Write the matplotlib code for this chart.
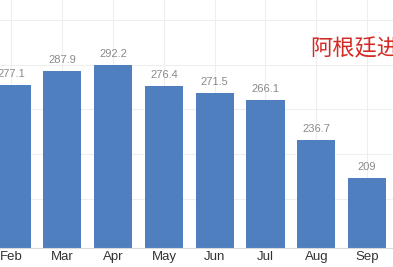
import matplotlib.pyplot as plt

plt.rcParams['font.family'] = ['Liberation Sans', 'Noto Sans CJK SC', 'DejaVu Sans']

# monthly values (Jan is cut off in the source picture)
months = ['Feb', 'Mar', 'Apr', 'May', 'Jun', 'Jul', 'Aug', 'Sep']
values = [277.1, 287.9, 292.2, 276.4, 271.5, 266.1, 236.7, 209]
labels = ['277.1', '287.9', '292.2', '276.4', '271.5', '266.1', '236.7', '209']
grid_levels = [193.5, 226.5, 259.5, 292.5, 325.5]
title_text = '阿根廷进口'

fig = plt.figure(figsize=(3.93, 2.67), dpi=100)
ax = fig.add_axes([0, 0.0712, 1, 0.9288])

x = list(range(len(months)))
ax.bar(x, values, width=0.75, color='#4f7fbf', zorder=2)

for xi, v, lab in zip(x, values, labels):
    ax.annotate(lab, (xi, v), xytext=(0, 4.5), textcoords='offset points',
                ha='center', va='bottom', fontsize=8, color='#8a8a8a')

ax.set_xlim(-0.226, 7.51)
ax.set_ylim(157.5, 340)
ax.set_xticks(x)
ax.set_xticklabels(months, fontsize=9.5, color='#333333')
ax.set_yticks(grid_levels)
ax.tick_params(axis='both', length=0, pad=2.5)
ax.tick_params(axis='y', labelleft=False)

ax.grid(True, color='#eeeeee', linewidth=0.8, zorder=0)
ax.set_axisbelow(True)
for side in ['top', 'right', 'left']:
    ax.spines[side].set_visible(False)
ax.spines['bottom'].set_color('#d9d9d9')

fig.text(310 / 393, 1 - 49 / 267, title_text, fontsize=16, color='#d42a24',
         ha='left', va='center', family=['Noto Sans CJK SC', 'DejaVu Sans'])

fig.savefig('out.png', dpi=100)
